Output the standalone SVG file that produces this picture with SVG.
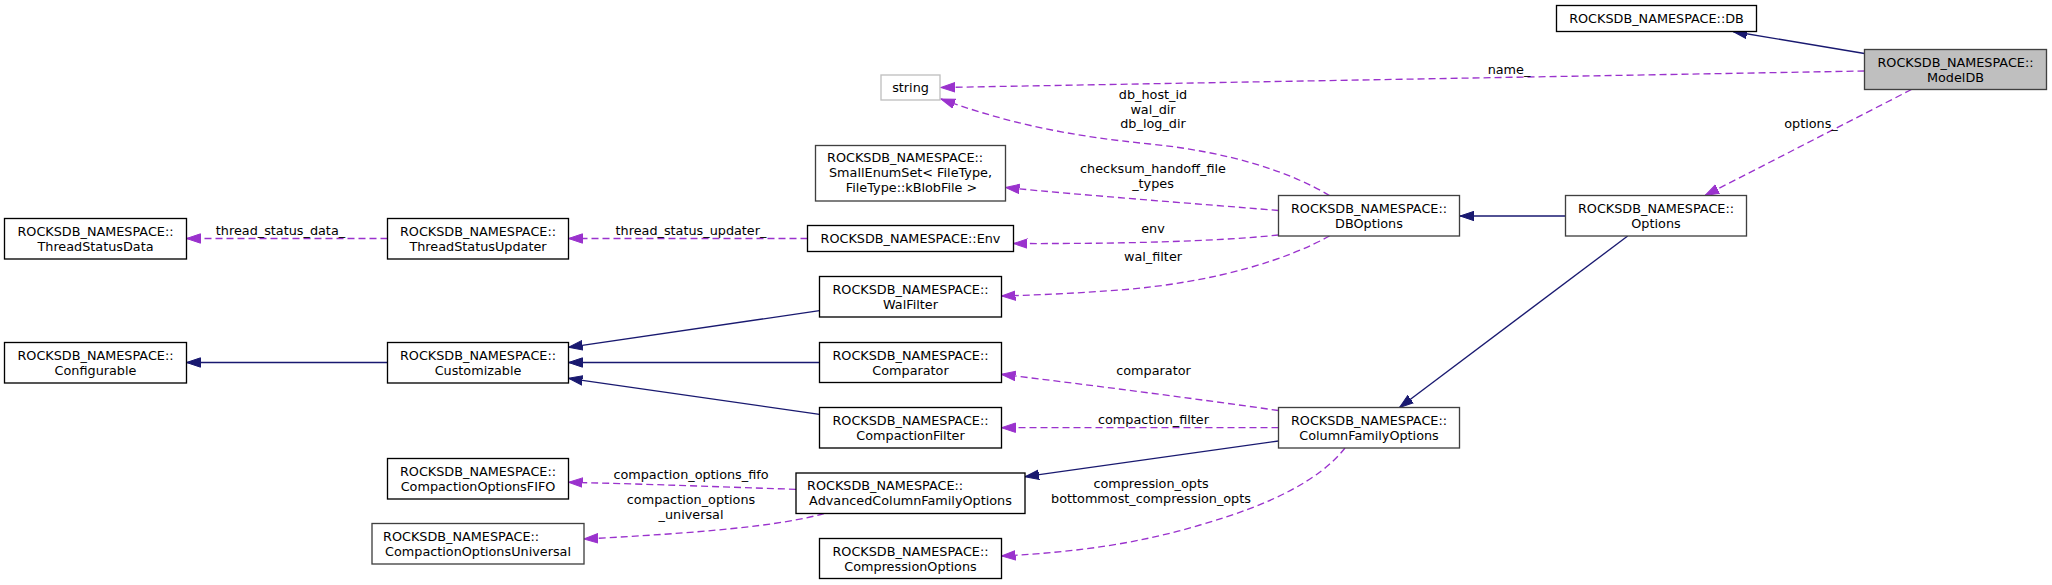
<svg xmlns="http://www.w3.org/2000/svg" width="2052" height="585" viewBox="0 0 2052 585">
<style>
text{font-family:"DejaVu Sans","Liberation Sans",sans-serif;font-size:12.8px;fill:#000}
.n rect{fill:#fff;stroke:#000;stroke-width:1.33}
.n.g rect{stroke:#404040}
.n.u rect{stroke:#bfbfbf}
.n.root rect{fill:#bfbfbf;stroke:#404040}
.c text{text-anchor:middle}
.n text{text-anchor:middle}
.n text.l{text-anchor:start}
.inh{fill:none;stroke:#191970;stroke-width:1.33;marker-end:url(#ah)}
.use{fill:none;stroke:#9a32cd;stroke-width:1.33;stroke-dasharray:7,4;marker-end:url(#ap)}
</style>
<defs>
<marker id="ah" markerUnits="userSpaceOnUse" markerWidth="15" markerHeight="11" viewBox="0 0 15 11" refX="14" refY="5.5" orient="auto">
<path d="M0,0.8 L14,5.5 L0,10.2 z" fill="#191970" stroke="#191970" stroke-width="1"/>
</marker>
<marker id="ap" markerUnits="userSpaceOnUse" markerWidth="15" markerHeight="11" viewBox="0 0 15 11" refX="14" refY="5.5" orient="auto">
<path d="M0,0.8 L14,5.5 L0,10.2 z" fill="#9a32cd" stroke="#9a32cd" stroke-width="1"/>
</marker>
</defs>
<rect width="2052" height="585" fill="#fff"/>
<g id="connectors" class="c">
<path class="inh" d="M1864.5,53.5 L1733,31.5"/>
<path class="use" d="M1864.5,71 L941,87.5"/>
<text x="1509" y="73.5">name_</text>
<path class="use" d="M1911.5,89.5 L1705,195.5"/>
<text x="1811" y="127.5">options_</text>
<path class="inh" d="M1565.5,216 L1460,216"/>
<path class="inh" d="M1627.7,236 L1399.5,407.5"/>
<path class="use" d="M1329.5,195.5 C1290,172 1230,152 1150,144 C1070,136 1010,124 941,99"/>
<text x="1153" y="99">db_host_id</text>
<text x="1153" y="113.5">wal_dir</text>
<text x="1153" y="128">db_log_dir</text>
<path class="use" d="M1278.5,210.5 C1200,204 1080,195 1005.5,187.5"/>
<text x="1153" y="173">checksum_handoff_file</text>
<text x="1153" y="188">_types</text>
<path class="use" d="M1278.5,235 C1230,240 1150,244 1013.5,243.5"/>
<text x="1153" y="233">env</text>
<path class="use" d="M1329.5,236 C1290,258 1220,282 1120,290 C1080,293 1040,295 1001.5,296"/>
<text x="1153" y="261">wal_filter</text>
<path class="use" d="M807.5,238.5 L568.5,238.5"/>
<text x="691" y="235">thread_status_updater_</text>
<path class="use" d="M387.5,238.5 L186.5,238.5"/>
<text x="280.5" y="235">thread_status_data_</text>
<path class="inh" d="M387.5,362.5 L186.5,362.5"/>
<path class="inh" d="M819.5,310.7 L568.5,347.3"/>
<path class="inh" d="M819.5,362.5 L568.5,362.5"/>
<path class="inh" d="M819.5,414.3 L568.5,378.3"/>
<path class="use" d="M1278.5,410.5 C1190,398 1090,385 1001.5,374.3"/>
<text x="1153.5" y="375">comparator</text>
<path class="use" d="M1278.5,427.7 L1001.5,427.7"/>
<text x="1153.5" y="424">compaction_filter</text>
<path class="inh" d="M1278.5,441 L1025,476.7"/>
<path class="use" d="M1345,448 C1320,480 1270,505 1200,525 C1140,543 1080,552 1001.5,556"/>
<text x="1151" y="488">compression_opts</text>
<text x="1151" y="503">bottommost_compression_opts</text>
<path class="use" d="M796,489.3 C720,487 650,484 568.5,482.3"/>
<text x="691" y="479">compaction_options_fifo</text>
<path class="use" d="M824,513.5 C780,526 700,533 584,539"/>
<text x="691" y="504">compaction_options</text>
<text x="691" y="519">_universal</text>
</g>
<g id="node-DB" class="n"><rect x="1556.5" y="5.5" width="200" height="26"/><text x="1656.5" y="23">ROCKSDB_NAMESPACE::DB</text></g>
<g id="node-ModelDB" class="n root"><rect x="1864.5" y="49.5" width="182" height="40"/><text x="1955.5" y="66.5">ROCKSDB_NAMESPACE::</text><text x="1955.5" y="81.5">ModelDB</text></g>
<g id="node-string" class="n u"><rect x="881" y="75" width="59" height="25"/><text x="910.5" y="92">string</text></g>
<g id="node-SmallEnumSet" class="n g"><rect x="815.5" y="145.5" width="190" height="55.5"/><text class="l" x="827" y="162">ROCKSDB_NAMESPACE::</text><text x="910.5" y="177">SmallEnumSet&lt; FileType,</text><text x="911.5" y="192">FileType::kBlobFile &gt;</text></g>
<g id="node-Env" class="n"><rect x="807.5" y="225.5" width="206" height="26"/><text x="910.5" y="243">ROCKSDB_NAMESPACE::Env</text></g>
<g id="node-WalFilter" class="n"><rect x="819.5" y="276.5" width="182" height="40.5"/><text x="910.5" y="293.5">ROCKSDB_NAMESPACE::</text><text x="910.5" y="308.5">WalFilter</text></g>
<g id="node-DBOptions" class="n g"><rect x="1278.5" y="195.5" width="181" height="40.5"/><text x="1369" y="212.5">ROCKSDB_NAMESPACE::</text><text x="1369" y="227.5">DBOptions</text></g>
<g id="node-Options" class="n g"><rect x="1565.5" y="195.5" width="181" height="40.5"/><text x="1656" y="212.5">ROCKSDB_NAMESPACE::</text><text x="1656" y="227.5">Options</text></g>
<g id="node-ThreadStatusData" class="n"><rect x="4.5" y="218.5" width="182" height="40.5"/><text x="95.5" y="235.5">ROCKSDB_NAMESPACE::</text><text x="95.5" y="250.5">ThreadStatusData</text></g>
<g id="node-ThreadStatusUpdater" class="n"><rect x="387.5" y="218.5" width="181" height="40.5"/><text x="478" y="235.5">ROCKSDB_NAMESPACE::</text><text x="478" y="250.5">ThreadStatusUpdater</text></g>
<g id="node-Configurable" class="n"><rect x="4.5" y="342.5" width="182" height="40.5"/><text x="95.5" y="359.5">ROCKSDB_NAMESPACE::</text><text x="95.5" y="374.5">Configurable</text></g>
<g id="node-Customizable" class="n"><rect x="387.5" y="342.5" width="181" height="40.5"/><text x="478" y="359.5">ROCKSDB_NAMESPACE::</text><text x="478" y="374.5">Customizable</text></g>
<g id="node-Comparator" class="n"><rect x="819.5" y="342.5" width="182" height="40"/><text x="910.5" y="359.5">ROCKSDB_NAMESPACE::</text><text x="910.5" y="374.5">Comparator</text></g>
<g id="node-CompactionFilter" class="n"><rect x="819.5" y="407.5" width="182" height="40.5"/><text x="910.5" y="424.5">ROCKSDB_NAMESPACE::</text><text x="910.5" y="439.5">CompactionFilter</text></g>
<g id="node-ColumnFamilyOptions" class="n g"><rect x="1278.5" y="407.5" width="181" height="40.5"/><text x="1369" y="424.5">ROCKSDB_NAMESPACE::</text><text x="1369" y="439.5">ColumnFamilyOptions</text></g>
<g id="node-AdvancedColumnFamilyOptions" class="n"><rect x="796" y="473" width="229" height="40.5"/><text class="l" x="807" y="490">ROCKSDB_NAMESPACE::</text><text x="910.5" y="505">AdvancedColumnFamilyOptions</text></g>
<g id="node-CompactionOptionsFIFO" class="n"><rect x="387.5" y="458.5" width="181" height="40.5"/><text x="478" y="475.5">ROCKSDB_NAMESPACE::</text><text x="478" y="490.5">CompactionOptionsFIFO</text></g>
<g id="node-CompactionOptionsUniversal" class="n g"><rect x="372" y="523.5" width="212" height="40.5"/><text class="l" x="383" y="540.5">ROCKSDB_NAMESPACE::</text><text x="478" y="555.5">CompactionOptionsUniversal</text></g>
<g id="node-CompressionOptions" class="n"><rect x="819.5" y="538.5" width="182" height="40"/><text x="910.5" y="555.5">ROCKSDB_NAMESPACE::</text><text x="910.5" y="570.5">CompressionOptions</text></g>
</svg>
